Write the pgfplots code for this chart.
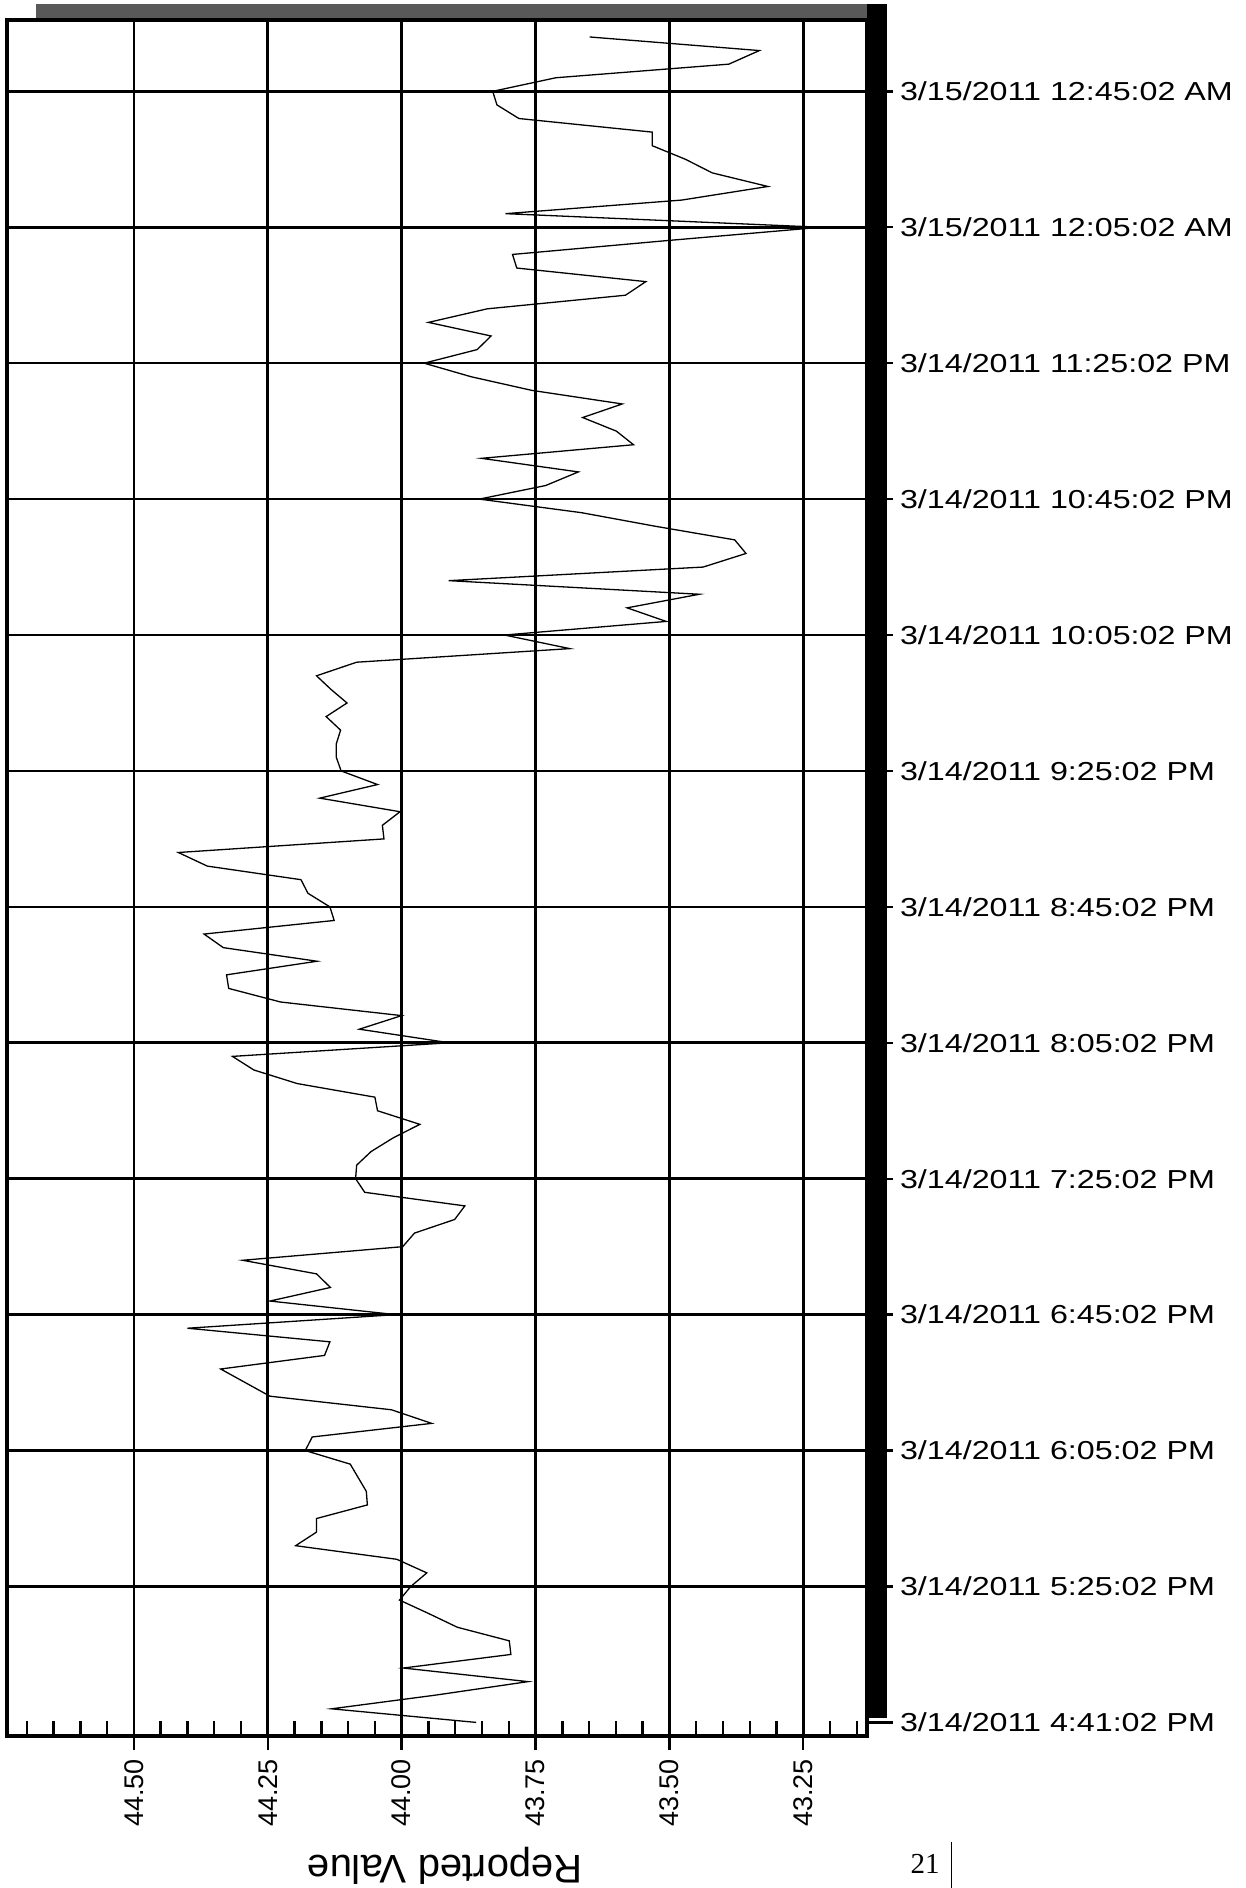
\documentclass[border=0pt]{standalone}
\usepackage{fontspec}
\setmainfont{Liberation Sans}
\newfontfamily\ylabfont{Liberation Sans}[FakeStretch=1.24]
\newfontfamily\pagefont{Liberation Serif}
\usepackage{pgfplots}
\pgfplotsset{compat=1.18}

% minutes after 4:41:02 PM and the reported value
\pgfplotstableread{
t v
4 43.861
8 44.131
12 43.938
16 43.764
20 43.997
24 43.796
28 43.799
32 43.896
36 43.949
40 44.004
44 43.983
48 43.953
52 44.009
56 44.198
60 44.159
64 44.159
68 44.064
72 44.066
76 44.081
80 44.096
84 44.180
88 44.167
92 43.944
96 44.019
100 44.246
104 44.292
108 44.338
112 44.144
116 44.134
120 44.400
124 44.011
128 44.246
132 44.133
136 44.159
140 44.297
144 43.998
148 43.976
152 43.901
156 43.882
160 44.069
164 44.086
168 44.084
172 44.057
176 44.016
180 43.966
184 44.045
188 44.050
192 44.195
196 44.276
200 44.316
204 43.911
208 44.079
212 44.000
216 44.226
220 44.323
224 44.327
228 44.158
232 44.333
236 44.369
240 44.126
244 44.134
248 44.175
252 44.188
256 44.363
260 44.417
264 44.033
268 44.036
272 44.003
276 44.153
280 44.045
284 44.113
288 44.122
292 44.122
296 44.114
300 44.141
304 44.102
308 44.132
312 44.159
316 44.084
320 43.686
324 43.808
328 43.506
332 43.579
336 43.444
340 43.912
344 43.437
348 43.357
352 43.378
356 43.526
360 43.664
364 43.855
368 43.731
372 43.670
376 43.851
380 43.567
384 43.599
388 43.662
392 43.588
396 43.757
400 43.870
404 43.958
408 43.859
412 43.833
416 43.950
420 43.840
424 43.582
428 43.544
432 43.785
436 43.793
440 43.510
444 43.217
448 43.806
452 43.477
456 43.316
460 43.420
464 43.470
468 43.532
472 43.532
476 43.781
480 43.822
484 43.830
488 43.712
492 43.389
496 43.332
500 43.649
}\reported

\begin{document}
\begin{tikzpicture}
\path[use as bounding box] (0,0) rectangle (623pt,944pt);
% drop shadow of the plot frame
\fill[black!65] (18pt,934pt) rectangle (443.5pt,942pt);
\fill[black] (433.5pt,85pt) rectangle (443.5pt,942pt);
\begin{axis}[
  at={(3.5pt,76pt)}, anchor=south west,
  scale only axis, width=430pt, height=858pt,
  x dir=reverse,
  xmin=43.131, xmax=44.737,
  ymin=0, ymax=505,
  axis line style={black, line width=1.6pt},
  grid=major,
  major grid style={black, line width=1.3pt},
  xtick={43.25,43.5,43.75,44,44.25,44.5},
  xticklabels={43.25,43.50,43.75,44.00,44.25,44.50},
  minor xtick={43.15,43.2,43.3,43.35,43.4,43.45,43.55,43.6,43.65,43.7,43.8,43.85,43.9,43.95,44.05,44.1,44.15,44.2,44.3,44.35,44.4,44.45,44.55,44.6,44.65,44.7},
  xtick pos=left,
  xtick align=inside,
  minor tick length=7.5pt,
  major tick length=13pt,
  every tick/.style={black, line width=1.2pt},
  extra x ticks={43.25,43.5,43.75,44,44.25,44.5},
  extra x tick labels={},
  extra x tick style={grid=none, xtick align=outside, major tick length=7pt},
  xticklabel style={rotate=90, anchor=east, font=\fontsize{13.5}{15}\selectfont},
  xticklabel shift=8pt,
  ytick={44,84,...,484},
  yticklabels={3/14/2011 5:25:02 PM,3/14/2011 6:05:02 PM,3/14/2011 6:45:02 PM,3/14/2011 7:25:02 PM,3/14/2011 8:05:02 PM,3/14/2011 8:45:02 PM,3/14/2011 9:25:02 PM,3/14/2011 10:05:02 PM,3/14/2011 10:45:02 PM,3/14/2011 11:25:02 PM,3/15/2011 12:05:02 AM,3/15/2011 12:45:02 AM},
  ytick pos=right,
  ytick align=outside,
  extra y ticks={4},
  extra y tick labels={3/14/2011 4:41:02 PM},
  extra y tick style={grid=none},
  yticklabel style={anchor=west, font=\ylabfont\fontsize{13}{15}\selectfont},
  xlabel={Reported Value},
  xlabel style={at={(rel axis cs:0.5,0)}, anchor=center, xshift=4pt, yshift=-65pt, rotate=180, font=\fontsize{20}{22}\selectfont},
]
\addplot[black, line width=0.65pt, mark=none] table[x=v, y=t] {\reported};
\end{axis}
\node[font=\pagefont\fontsize{14.5}{16}\selectfont] at (462.5pt,12pt) {21};
\draw[line width=0.5pt] (475.5pt,0pt) -- (475.5pt,23pt);
\end{tikzpicture}
\end{document}
